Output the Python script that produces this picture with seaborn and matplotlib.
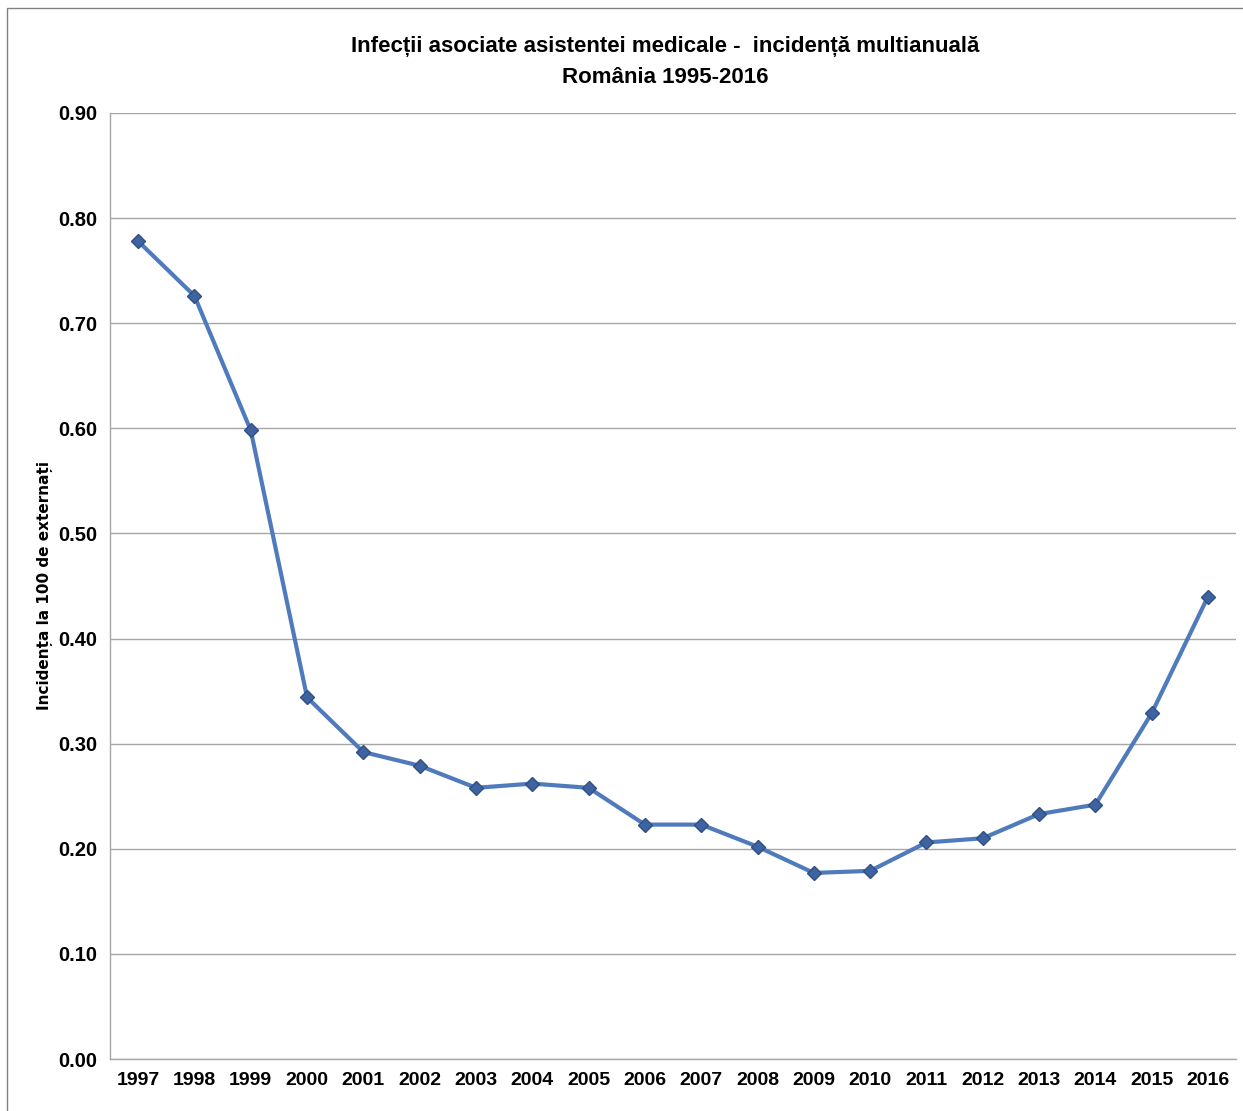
import matplotlib
matplotlib.use('Agg')
import matplotlib.pyplot as plt
import matplotlib.patches as mpatches
import seaborn as sns
import pandas as pd

years = [1997, 1998, 1999, 2000, 2001, 2002, 2003, 2004, 2005, 2006,
         2007, 2008, 2009, 2010, 2011, 2012, 2013, 2014, 2015, 2016]
incidence = [0.778, 0.726, 0.598, 0.344, 0.292, 0.279, 0.258, 0.262, 0.258, 0.223,
             0.223, 0.202, 0.177, 0.179, 0.206, 0.210, 0.233, 0.242, 0.329, 0.440]
yticks = [0.0, 0.1, 0.2, 0.3, 0.4, 0.5, 0.6, 0.7, 0.8, 0.9]

sns.set_style('white')
plt.rcParams['font.family'] = ['Liberation Sans Narrow', 'Liberation Sans', 'DejaVu Sans']
plt.rcParams['text.color'] = 'black'
plt.rcParams['xtick.color'] = 'black'
plt.rcParams['ytick.color'] = 'black'
plt.rcParams['axes.labelcolor'] = 'black'

df = pd.DataFrame({'year': years, 'value': incidence})

fig = plt.figure(figsize=(12.43, 11.11), dpi=100)
ax = fig.add_axes([0.0885, 0.0468, 0.906, 0.8515])

sns.lineplot(data=df, x='year', y='value', ax=ax, color='#4f7bbd', linewidth=3,
             marker='D', markersize=7, markerfacecolor='#3f63a0',
             markeredgecolor='#2f4f85', markeredgewidth=1)

ax.set_xlim(1996.5, 2016.5)
ax.set_ylim(0, 0.9)
ax.set_xticks(years)
ax.set_xticklabels([str(y) for y in years], fontsize=14, fontweight='bold')
ax.set_yticks(yticks)
ax.set_yticklabels([f'{t:.2f}' for t in yticks], fontsize=14.5, fontweight='bold')
ax.tick_params(axis='both', length=0, pad=9)
ax.yaxis.grid(True, color='#a6a6a6', linewidth=1)
ax.set_axisbelow(True)
for s in ['top', 'right']:
    ax.spines[s].set_visible(False)
for s in ['left', 'bottom']:
    ax.spines[s].set_color('#a6a6a6')
    ax.spines[s].set_linewidth(1)
ax.set_xlabel('')
ax.set_ylabel('Incidența la 100 de externați', fontsize=11, fontweight='bold',
              family=['DejaVu Sans'], labelpad=4)

fig.text(0.535, 0.958, 'Infecții asociate asistentei medicale -  incidență multianuală',
         ha='center', va='center', fontsize=16, fontweight='bold')
fig.text(0.535, 0.930, 'România 1995-2016', ha='center', va='center',
         fontsize=16, fontweight='bold')

fig.patches.append(mpatches.Rectangle((0.006, -0.01), 1.0, 1.003, transform=fig.transFigure,
                                      fill=False, edgecolor='#808080', linewidth=1))

fig.savefig('out.png', dpi=100)
